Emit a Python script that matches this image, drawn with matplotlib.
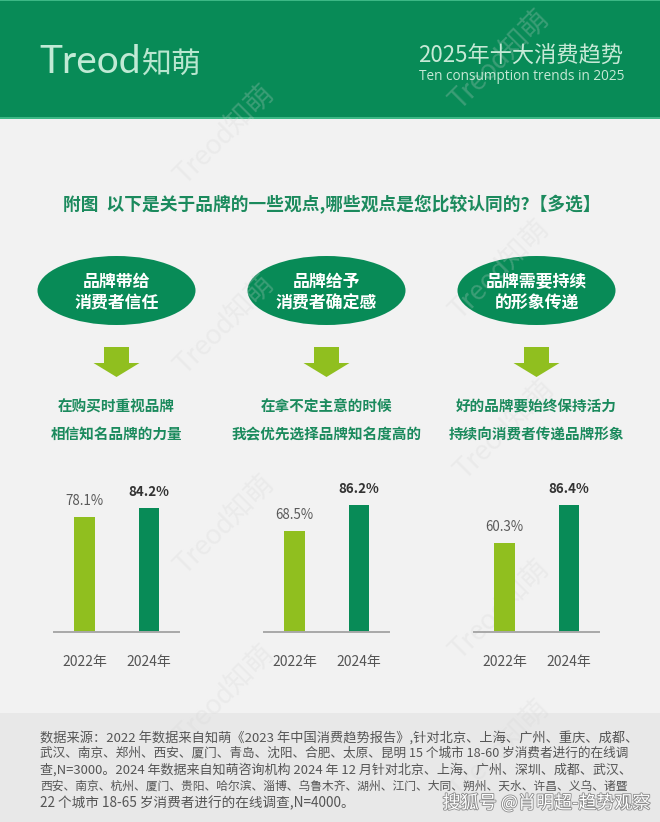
import matplotlib
matplotlib.use("Agg")
import matplotlib.pyplot as plt
import matplotlib.patheffects as pe
from matplotlib.patches import Rectangle, Ellipse, Polygon

plt.rcParams['font.family'] = ['Noto Sans CJK SC', 'DejaVu Sans']

W, H = 660, 822
years = ["2022年", "2024年"]
values = [[78.1, 84.2], [68.5, 86.2], [60.3, 86.4]]
value_labels = [["78.1%", "84.2%"], ["68.5%", "86.2%"], ["60.3%", "86.4%"]]
ellipse_text = [["品牌带给", "消费者信任"], ["品牌给予", "消费者确定感"], ["品牌需要持续", "的形象传递"]]
sub_text = [["在购买时重视品牌", "相信知名品牌的力量"],
            ["在拿不定主意的时候", "我会优先选择品牌知名度高的"],
            ["好的品牌要始终保持活力", "持续向消费者传递品牌形象"]]
title = "附图  以下是关于品牌的一些观点,哪些观点是您比较认同的?【多选】"
header_cn = "2025年十大消费趋势"
header_en = "Ten consumption trends in 2025"
footer = ["数据来源：2022 年数据来自知萌《2023 年中国消费趋势报告》,针对北京、上海、广州、重庆、成都、",
          "武汉、南京、郑州、西安、厦门、青岛、沈阳、合肥、太原、昆明 15 个城市 18-60 岁消费者进行的在线调",
          "查,N=3000。2024 年数据来自知萌咨询机构 2024 年 12 月针对北京、上海、广州、深圳、成都、武汉、",
          "西安、南京、杭州、厦门、贵阳、哈尔滨、淄博、乌鲁木齐、湖州、江门、大同、朔州、天水、许昌、义乌、诸暨",
          "22 个城市 18-65 岁消费者进行的在线调查,N=4000。"]
footer_sizes = [9.5, 9.1, 9.4, 8.5, 9.8]
watermark_pos = [(225, 135), (225, 325), (500, 60), (500, 270), (505, 430),
                 (225, 525), (500, 610), (225, 695), (500, 750)]

GREEN = "#088b57"
LIME = "#90bf1f"
TEXT_GREEN = "#1b8a5d"

fig = plt.figure(figsize=(W / 100, H / 100), dpi=100, facecolor="#f2f2f2")
bg = fig.add_axes([0, 0, 1, 1])
bg.set_xlim(0, W)
bg.set_ylim(H, 0)
bg.axis("off")

bg.add_patch(Rectangle((0, 0), W, 118, fc=GREEN, ec="none"))
bg.add_patch(Rectangle((0, 117.5), W, 1.5, fc="#3cb885", ec="none"))
bg.add_patch(Rectangle((0, 0), W, 1, fc="#3cb885", ec="none"))
bg.add_patch(Rectangle((0, 713), W, H - 713, fc="#e8e8e8", ec="none"))

for (x, y) in watermark_pos:
    bg.text(x, y, "Treod知萌", rotation=45, ha="center", va="center", fontsize=20,
            color="#d4d4d4", alpha=0.25, family=["Lato", "Noto Sans CJK SC"], rotation_mode="anchor")

bg.text(39, 62, "Treod", ha="left", va="center", fontsize=28, color="#c0ead5", family=["Lato"])
bg.text(141, 64, "知萌", ha="left", va="center", fontsize=21.5, color="#b8e6cf", fontweight="light")
bg.text(623, 56, header_cn, ha="right", va="center", fontsize=16, color="#c6e9d6")
bg.text(624, 76, header_en, ha="right", va="center", fontsize=9.8, color="#c6e9d6", family=["Open Sans"])

bg.text(63, 204.5, title, ha="left", va="center", fontsize=12.75, color=TEXT_GREEN, fontweight="bold")

ax_left = [54, 264, 474]
for i, left in enumerate(ax_left):
    cx = left + 62.5
    bg.add_patch(Ellipse((cx, 290.5), 158, 69, fc=GREEN, ec="none"))
    bg.text(cx, 282, ellipse_text[i][0], ha="center", va="center", fontsize=12.2, color="white", fontweight="bold")
    bg.text(cx, 303.5, ellipse_text[i][1], ha="center", va="center", fontsize=12.2, color="white", fontweight="bold")
    bg.add_patch(Polygon([(cx - 12.5, 347), (cx + 12.5, 347), (cx + 12.5, 363), (cx + 23, 363),
                          (cx, 377), (cx - 23, 363), (cx - 12.5, 363), (cx - 12.5, 347)],
                         fc=LIME, ec="none"))
    bg.text(cx, 407, sub_text[i][0], ha="center", va="center", fontsize=10.5, color=TEXT_GREEN, fontweight="bold")
    bg.text(cx, 434, sub_text[i][1], ha="center", va="center", fontsize=10.5, color=TEXT_GREEN, fontweight="bold")

    ax = fig.add_axes([left / W, 1 - 632 / H, 125 / W, 172 / H])
    ax.patch.set_alpha(0)
    ax.bar([0, 1], values[i], width=0.318, color=[LIME, GREEN])
    ax.set_xlim(-0.473, 1.465)
    ax.set_ylim(0, 172 / 1.47)
    ax.set_yticks([])
    ax.set_xticks([0, 1])
    ax.set_xticklabels(years, fontsize=10, color="#555555")
    ax.tick_params(axis="x", length=0, pad=16.5)
    for s in ["top", "left", "right"]:
        ax.spines[s].set_visible(False)
    ax.spines["bottom"].set_color("#a8a8a8")
    ax.spines["bottom"].set_linewidth(1.4)
    for j, v in enumerate(values[i]):
        ax.annotate(value_labels[i][j], (j, v), xytext=(0, 6.5), textcoords="offset points",
                    ha="center", va="bottom", fontsize=9.6,
                    color="#5a5a5a" if j == 0 else "#333333",
                    fontweight="normal" if j == 0 else "bold")

for k, line in enumerate(footer):
    bg.text(40, [737.5, 753, 769.5, 786, 803.5][k], line, ha="left", va="center", fontsize=footer_sizes[k], color="#555555")

bg.text(650, 803, "搜狐号 @肖明超-趋势观察", ha="right", va="center", fontsize=13, color="white",
        path_effects=[pe.withStroke(linewidth=1.2, foreground="#8a8a8a")])

fig.savefig("out.png", dpi=100, facecolor=fig.get_facecolor())
